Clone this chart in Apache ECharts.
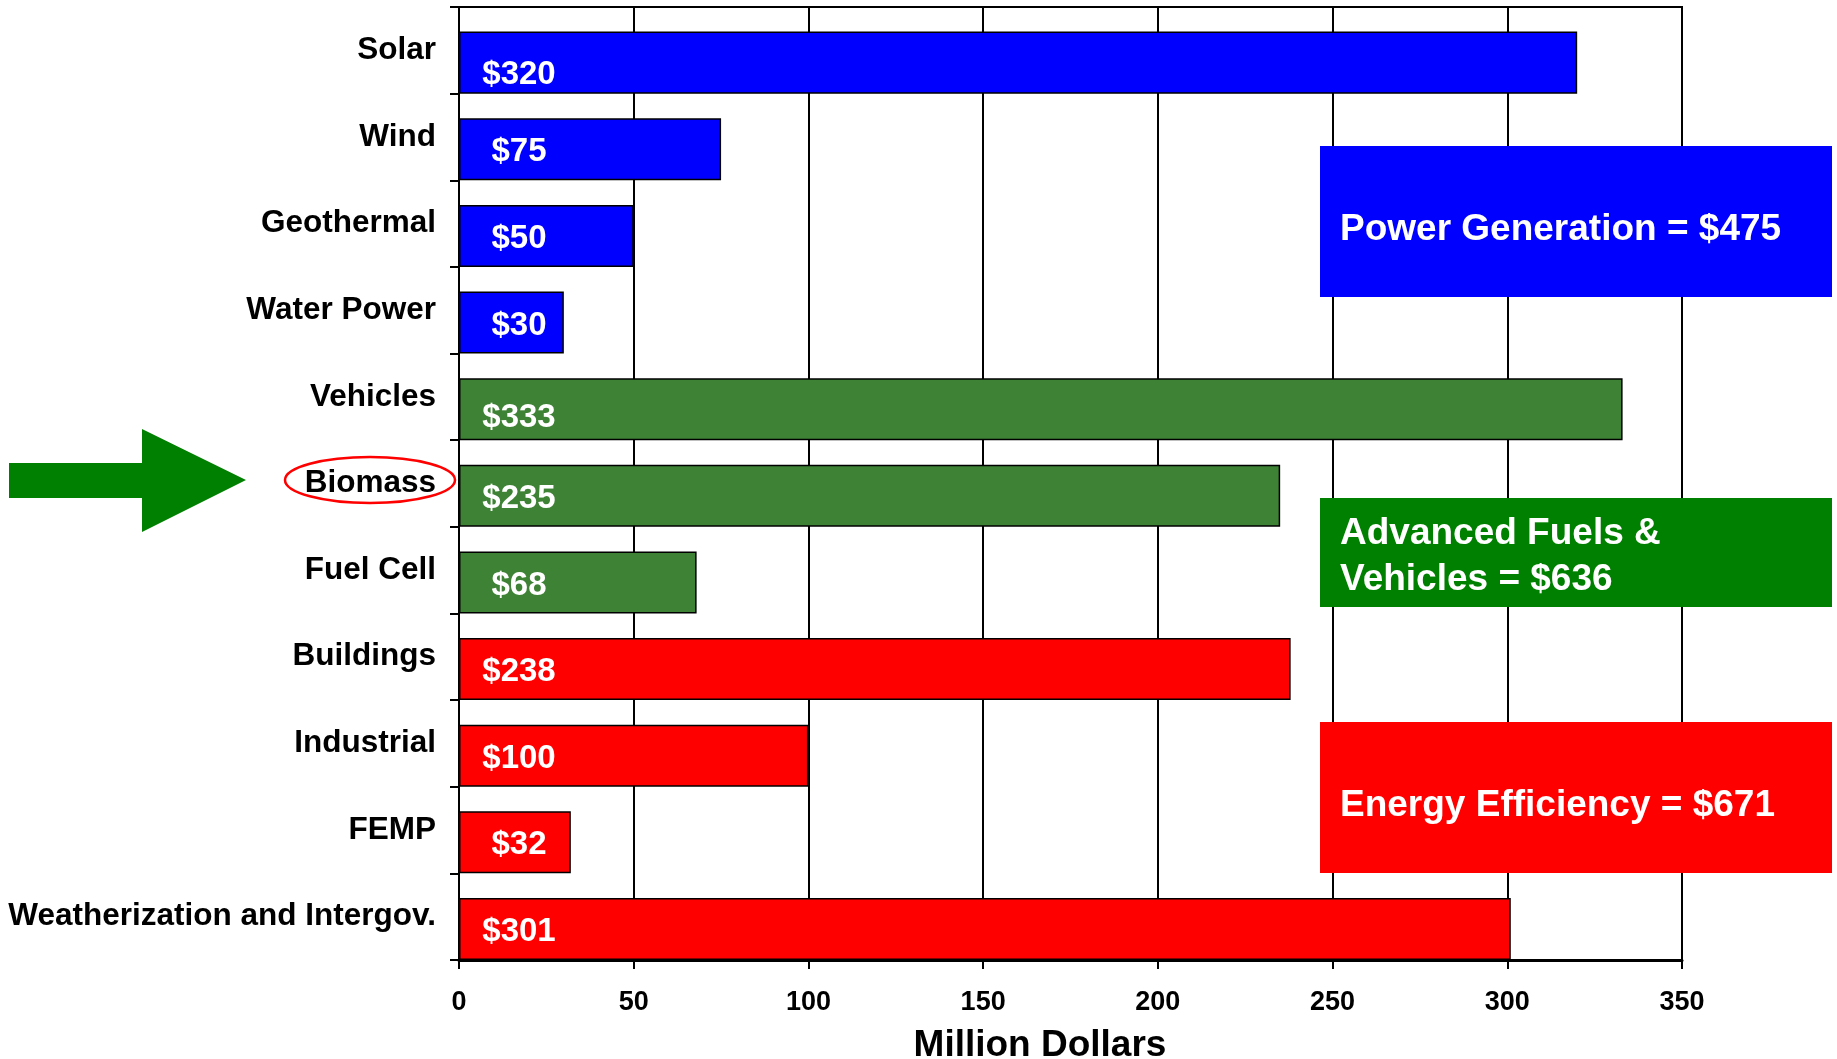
<!DOCTYPE html>
<html>
<head>
<meta charset="utf-8">
<script src="https://cdn.jsdelivr.net/npm/echarts@6/dist/echarts.min.js"></script>
<style>
html,body{margin:0;padding:0;background:#fff;}
#chart{width:1837px;height:1059px;}
</style>
</head>
<body>
<div id="chart"></div>
<script>
const categories = ['Solar', 'Wind', 'Geothermal', 'Water Power', 'Vehicles', 'Biomass', 'Fuel Cell', 'Buildings', 'Industrial', 'FEMP', 'Weatherization and Intergov.'];
const values = [320, 75, 50, 30, 333, 235, 68, 238, 100, 32, 301];
const groups = ['power', 'power', 'power', 'power', 'fuels', 'fuels', 'fuels', 'eff', 'eff', 'eff', 'eff'];
const xTicks = [0, 50, 100, 150, 200, 250, 300, 350];
const groupColors = { power: '#0000FF', fuels: '#3E8235', eff: '#FF0000' };
const summaryLabels = ['Power Generation = $475', 'Advanced Fuels &\nVehicles = $636', 'Energy Efficiency = $671'];
const summaryColors = ['#0000FF', '#008000', '#FF0000'];

const FONT = '"Liberation Sans", Arial, Helvetica, sans-serif';
const chart = echarts.init(document.getElementById('chart'));

const boxes = [
  { y: 146, h: 151, ty: 230 },
  { y: 498, h: 109, ty: 557 },
  { y: 722, h: 151, ty: 806 }
];

const graphic = [];
boxes.forEach((b, i) => {
  graphic.push({
    type: 'rect', left: 1320, top: b.y, z: 50,
    shape: { width: 512, height: b.h },
    style: { fill: summaryColors[i] }
  });
  graphic.push({
    type: 'text', z: 51,
    style: {
      text: summaryLabels[i], x: 1340, y: b.ty,
      fill: '#FFFFFF', font: 'bold 37px ' + FONT,
      align: 'left', verticalAlign: 'middle', lineHeight: 46
    }
  });
});
graphic.push({
  type: 'polygon', z: 50,
  shape: { points: [[9, 463], [142, 463], [142, 429], [246, 480], [142, 532], [142, 498], [9, 498]] },
  style: { fill: '#008000' }
});
graphic.push({
  type: 'ellipse', z: 50,
  shape: { cx: 370, cy: 480, rx: 85, ry: 23 },
  style: { fill: 'none', stroke: '#FF0000', lineWidth: 2.5 }
});

// small vertical nudges of the in-bar labels (as in the original slide)
const labelNudge = { 0: 9, 4: 6 };

const option = {
  animation: false,
  backgroundColor: '#FFFFFF',
  grid: {
    left: 459, right: 155, top: 7, bottom: 99,
    containLabel: false, outerBoundsMode: 'none',
    show: true, borderColor: '#000', borderWidth: 2, backgroundColor: 'transparent'
  },
  xAxis: {
    type: 'value', min: xTicks[0], max: xTicks[xTicks.length - 1], interval: 50,
    name: 'Million Dollars', nameLocation: 'middle', nameGap: 67,
    nameTextStyle: { fontFamily: FONT, fontWeight: 'bold', fontSize: 37, color: '#000', padding: [0, 61, 0, 0] },
    axisLine: { show: true, lineStyle: { color: '#000', width: 3 } },
    axisTick: { show: true, length: 9, lineStyle: { color: '#000', width: 2 } },
    axisLabel: { fontFamily: FONT, fontWeight: 'bold', fontSize: 27, color: '#000', margin: 29 },
    splitLine: { show: true, lineStyle: { color: '#000', width: 2 } }
  },
  yAxis: {
    type: 'category', data: categories, inverse: true,
    axisLine: { show: true, lineStyle: { color: '#000', width: 2 } },
    axisTick: { show: true, length: 9, lineStyle: { color: '#000', width: 2 } },
    axisLabel: { fontFamily: FONT, fontWeight: 'bold', fontSize: 31.5, color: '#000', margin: 23 },
    splitLine: { show: false }
  },
  series: [
    {
      type: 'bar', name: 'spacer', data: categories.map(() => 0),
      barWidth: '28.4%', barGap: '0%', silent: true,
      itemStyle: { color: 'rgba(0,0,0,0)', borderWidth: 0 }, label: { show: false }
    },
    {
      type: 'bar', name: 'Budget',
      data: values.map((v, i) => ({ value: v, label: { offset: [0, 3 + (labelNudge[i] || 0)] } })),
      barWidth: '71.6%', barGap: '0%',
      itemStyle: {
        color: p => groupColors[groups[p.dataIndex]],
        borderColor: '#000', borderWidth: 1.5
      },
      label: {
        show: true, position: [60, '50%'], align: 'center', verticalAlign: 'middle',
        formatter: p => '$' + p.value,
        fontFamily: FONT, fontWeight: 'bold', fontSize: 33, color: '#FFFFFF'
      }
    }
  ],
  graphic: graphic
};
chart.setOption(option);
</script>
</body>
</html>
